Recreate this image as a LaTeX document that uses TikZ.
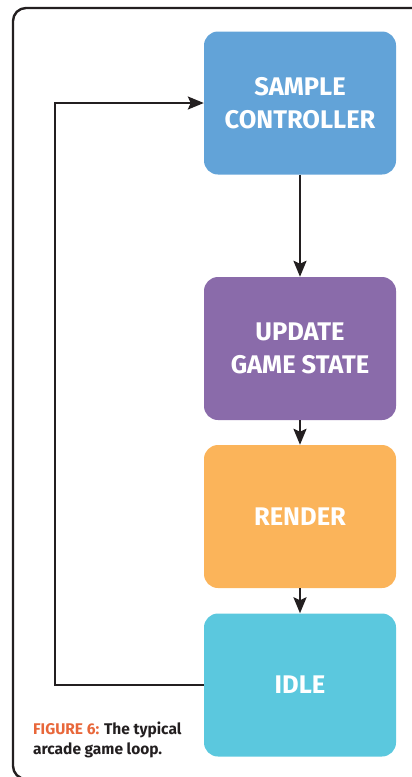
\documentclass[tikz,border=0pt]{standalone}
\usepackage{fontspec}
\setmainfont{Fira Sans}
\newfontfamily\labelfont{Fira Sans}
\usetikzlibrary{arrows.meta}

\definecolor{sampleblue}{HTML}{62A3D8}
\definecolor{updatepurple}{HTML}{8A6BAA}
\definecolor{renderorange}{HTML}{FBB45A}
\definecolor{idlecyan}{HTML}{5BC8DE}
\definecolor{figorange}{HTML}{E8673A}
\definecolor{ink}{HTML}{231F20}

\tikzset{
  stagebox/.style={rounded corners=14pt, minimum width=192pt, minimum height=143pt,
    inner sep=0pt, align=center, text=white,
    font=\labelfont\bfseries\fontsize{25.5}{32.5}\selectfont},
  flow/.style={draw=ink, line width=2.6pt,
    -{Stealth[length=16pt,width=13pt,inset=3pt]}},
  loopline/.style={draw=ink, line width=2.2pt,
    -{Stealth[length=16pt,width=13pt,inset=3pt]}},
  frame/.style={draw=ink, line width=2.4pt, rounded corners=13pt}
}

\begin{document}
\begin{tikzpicture}[x=1pt, y=-1pt]
  \useasboundingbox (0,0) rectangle (412,777);
  \clip (0,0) rectangle (412,777);

  % outer panel frame, open to the right and bottom
  \draw[frame] (430,8) -- (13,8) -- (13,779) -- (430,779);

  % the four loop stages
  \node[stagebox, fill=sampleblue]   (sample) at (300,103)   {SAMPLE\\CONTROLLER};
  \node[stagebox, fill=updatepurple] (update) at (300,348.5) {UPDATE\\GAME STATE};
  \node[stagebox, fill=renderorange] (render) at (300,516.5) {RENDER};
  \node[stagebox, fill=idlecyan]     (idle)   at (300,685)   {IDLE};

  % forward arrows
  \draw[flow] (sample.south) -- (update.north);
  \draw[flow] (update.south) -- (render.north);
  \draw[flow] (render.south) -- (idle.north);

  % return path from idle back to sampling
  \coordinate (lowcorner) at (55,685);
  \coordinate (highcorner) at (55,103);
  \draw[loopline] (idle.west) -- (lowcorner) -- (highcorner) -- (sample.west);

  % caption
  \node[anchor=north west, align=left, inner sep=0pt, text=ink,
        font=\labelfont\bfseries\fontsize{15.5}{20}\selectfont] (caption) at (33,722)
    {{\color{figorange}FIGURE 6:} The typical\\arcade game loop.};
\end{tikzpicture}
\end{document}
